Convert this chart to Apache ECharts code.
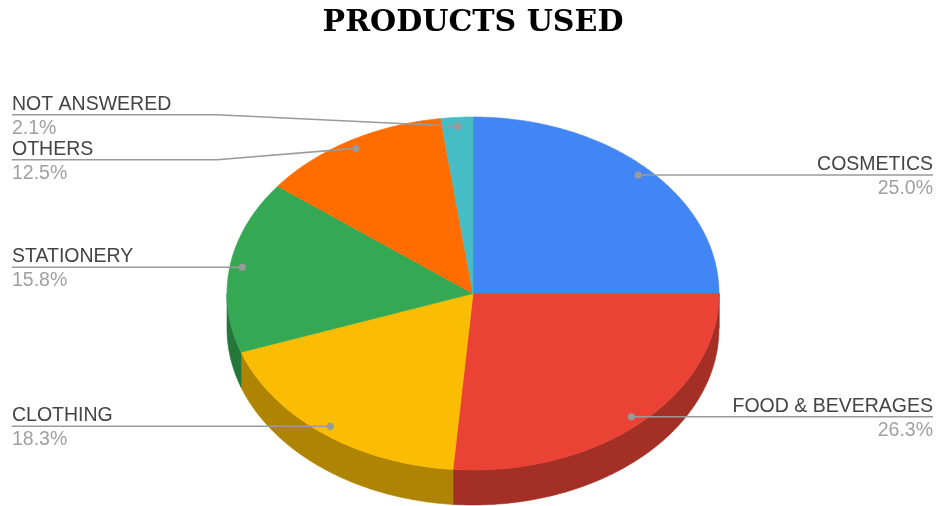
<!DOCTYPE html>
<html>
<head>
<meta charset="utf-8">
<script src="https://cdn.jsdelivr.net/npm/echarts@6/dist/echarts.min.js"></script>
<style>
  html, body { margin: 0; padding: 0; background: #fff; }
  #main { width: 937px; height: 506px; }
</style>
</head>
<body>
<div id="main"></div>
<script>
// Survey answers: which products are used (share of responses, %)
const categories = ['COSMETICS', 'FOOD & BEVERAGES', 'CLOTHING', 'STATIONERY', 'OTHERS', 'NOT ANSWERED'];
const shares = [25.0, 26.3, 18.3, 15.8, 12.5, 2.1];

// Slice colours (top face) and the darker shade used for the rim
const palette = ['#4285f4', '#ea4335', '#fbbc04', '#34a853', '#ff6d01', '#46bdc6'];
const rimPalette = ['#2e5dab', '#a42f25', '#b08403', '#24763a', '#b34c01', '#31848b'];

// Tilted pie geometry (pixels)
const geo = { cx: 473, cy: 293.5, rx: 246, ry: 176.5, depth: 35, dotR: 0.95 };
const labelEdge = { left: 12, right: 933, bendLeft: 217, bendRight: 729, gap: 45 };

const total = shares.reduce((a, b) => a + b, 0);
let run = 0;
const spans = shares.map(v => {
  const a1 = run / total * 360;
  run += v;
  return [a1, run / total * 360];
});

// angle in degrees, clockwise from 12 o'clock
function pt(deg, k, dy) {
  const t = deg * Math.PI / 180;
  return [geo.cx + geo.rx * k * Math.sin(t), geo.cy - geo.ry * k * Math.cos(t) + (dy || 0)];
}
function arc(a, b, dy) {
  const pts = [];
  const n = Math.max(2, Math.ceil(Math.abs(b - a) * 2));
  for (let i = 0; i <= n; i++) pts.push(pt(a + (b - a) * i / n, 1, dy));
  return pts;
}

// Label anchors and vertical spreading so labels on one side do not collide
const anchors = spans.map(([a1, a2]) => pt((a1 + a2) / 2, geo.dotR, 0));
const labelY = anchors.map(p => p[1]);
['left', 'right'].forEach(side => {
  const idx = anchors.map((p, i) => i).filter(i => (anchors[i][0] < geo.cx) === (side === 'left'));
  idx.sort((a, b) => anchors[a][1] - anchors[b][1]);
  // group into clusters that are too close, spread each cluster around its mean
  let clusters = idx.map(i => [i]);
  let merged = true;
  const place = c => {
    const mean = c.reduce((s, i) => s + anchors[i][1], 0) / c.length;
    c.forEach((i, k) => { labelY[i] = mean + (k - (c.length - 1) / 2) * labelEdge.gap; });
  };
  while (merged) {
    merged = false;
    clusters.forEach(place);
    for (let k = 0; k < clusters.length - 1; k++) {
      const lastA = clusters[k][clusters[k].length - 1];
      const firstB = clusters[k + 1][0];
      if (labelY[firstB] - labelY[lastA] < labelEdge.gap - 0.01) {
        clusters.splice(k, 2, clusters[k].concat(clusters[k + 1]));
        merged = true;
        break;
      }
    }
  }
});

const labelFont = 'Liberation Sans';

function renderSlice(params) {
  const i = params.dataIndex;
  const [a1, a2] = spans[i];
  const children = [];

  // visible rim (front half of the disc)
  const s = Math.max(a1, 90), e = Math.min(a2, 270);
  if (s < e) {
    children.push({
      type: 'polygon',
      z2: 1,
      shape: { points: arc(s, e, 0).concat(arc(e, s, geo.depth)) },
      style: { fill: rimPalette[i], stroke: rimPalette[i], lineWidth: 0.6 }
    });
  }
  // top face
  children.push({
    type: 'polygon',
    z2: 2,
    shape: { points: [[geo.cx, geo.cy]].concat(arc(a1, a2, 0)) },
    style: { fill: palette[i], stroke: palette[i], lineWidth: 0.6 }
  });

  // leader line + labels
  const dot = anchors[i];
  const ly = labelY[i];
  const left = dot[0] < geo.cx;
  const edgeX = left ? labelEdge.left : labelEdge.right;
  const bendX = left ? labelEdge.bendLeft : labelEdge.bendRight;
  const pts = Math.abs(ly - dot[1]) < 0.5
    ? [[edgeX, ly], [dot[0], ly]]
    : [[edgeX, ly], [bendX, ly], dot];
  children.push({
    type: 'polyline', z2: 10,
    shape: { points: pts },
    style: { stroke: '#9a9a9a', lineWidth: 1.6, fill: null }
  });
  children.push({
    type: 'circle', z2: 11,
    shape: { cx: dot[0], cy: dot[1], r: 3.6 },
    style: { fill: '#9a9a9a' }
  });
  children.push({
    type: 'text', z2: 12,
    x: edgeX, y: ly - 0.5,
    style: {
      text: categories[i], fill: '#444444',
      font: '19.5px "' + labelFont + '"',
      align: left ? 'left' : 'right', verticalAlign: 'bottom'
    }
  });
  children.push({
    type: 'text', z2: 12,
    x: edgeX, y: ly + 3.5,
    style: {
      text: (shares[i] / total * 100).toFixed(1) + '%', fill: '#a0a0a0',
      font: '19.5px "' + labelFont + '"',
      align: left ? 'left' : 'right', verticalAlign: 'top'
    }
  });

  return { type: 'group', children };
}

const chart = echarts.init(document.getElementById('main'), null, { renderer: 'canvas' });
chart.setOption({
  animation: false,
  backgroundColor: '#ffffff',
  title: {
    text: 'PRODUCTS USED',
    left: 473,
    textAlign: 'center',
    top: 0,
    padding: [8, 0, 0, 0],
    textStyle: {
      fontFamily: 'DejaVu Serif',
      fontWeight: 'bold',
      fontSize: 30,
      color: '#000000'
    }
  },
  series: [{
    type: 'custom',
    coordinateSystem: 'none',
    data: shares.map((v, i) => ({ name: categories[i], value: v })),
    renderItem: renderSlice,
    silent: true
  }]
});
</script>
</body>
</html>
